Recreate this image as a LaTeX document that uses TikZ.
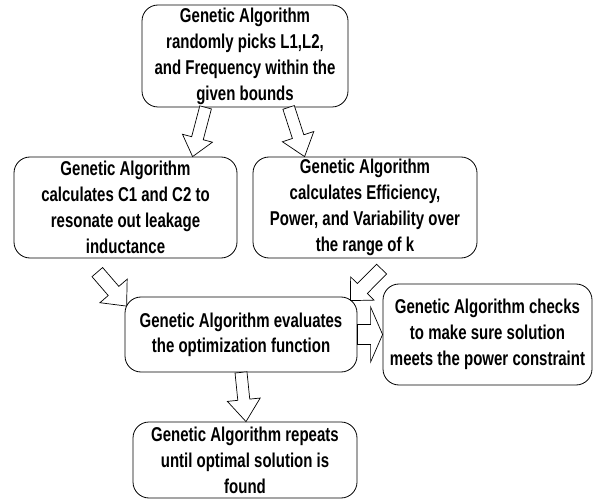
\documentclass[tikz,border=0pt]{standalone}
\usepackage{fontspec}
\setmainfont{Liberation Sans}[FakeStretch=0.75]
\usetikzlibrary{calc}
\tikzset{
  gabox/.style={draw=black, line width=0.8pt, rounded corners=16pt, inner sep=0pt,
    align=center, font=\fontsize{20}{26}\selectfont\bfseries},
  blk/.style={draw=black, fill=white, line width=0.7pt, line join=miter}
}
% #1 start, #2 tip, #3 shaft half width, #4 head half width, #5 head length
\newcommand\blkarrow[5]{%
  \path ($(#2)!#5!(#1)$) coordinate (hb);
  \draw[blk] ($(#1)!#3!90:(#2)$) -- ($(hb)!#3!90:(#2)$) -- ($(hb)!#4!90:(#2)$)
    -- (#2) -- ($(hb)!#4!-90:(#2)$) -- ($(hb)!#3!-90:(#2)$)
    -- ($(#1)!#3!-90:(#2)$) -- cycle;
}
\begin{document}
\begin{tikzpicture}[x=1pt, y=-1pt]
\useasboundingbox (0,0) rectangle (595,500);

\node[gabox, minimum width=206pt, minimum height=102pt] (b1) at (245,56)
  {Genetic Algorithm\\randomly picks L1,L2,\\and Frequency within the\\given bounds};
\node[gabox, minimum width=223pt, minimum height=101pt] (b2) at (125.5,207.5)
  {Genetic Algorithm\\calculates C1 and C2 to\\resonate out leakage\\inductance};
\node[gabox, minimum width=224pt, minimum height=101pt] (b3) at (365,207.5)
  {Genetic Algorithm\\calculates Efficiency,\\Power, and Variability over\\the range of k};
\node[gabox, minimum width=232pt, minimum height=75pt, font=\fontsize{20}{25}\selectfont\bfseries] (b4) at (241,334.5)
  {Genetic Algorithm evaluates\\the optimization function};
\node[gabox, minimum width=209pt, minimum height=101pt] (b5) at (487.5,334.5)
  {Genetic Algorithm checks\\to make sure solution\\meets the power constraint};
\node[gabox, minimum width=224pt, minimum height=76pt] (b6) at (245,460)
  {Genetic Algorithm repeats\\until optimal solution is\\found};

\coordinate (aS) at ($(b1.south west)+(64,0)$);
\coordinate (aE) at ($(b2.north west)+(179,0)$);
\coordinate (bS) at ($(b1.south west)+(147,0)$);
\coordinate (bE) at ($(b3.north west)+(52,0)$);
\coordinate (cS) at ($(b2.south west)+(83.7,13.7)$);
\coordinate (cE) at ($(b4.north west)+(2,9.5)$);
\coordinate (dS) at ($(b3.south west)+(129,10.7)$);
\coordinate (dE) at ($(b4.north east)+(-7,4)$);
\coordinate (eS) at (b4.east);
\coordinate (eE) at (b5.west);
\coordinate (fS) at (b4.south);
\coordinate (fE) at ($(b6.north)+(1,0)$);

\blkarrow{aS}{aE}{6pt}{15.5pt}{19pt}
\blkarrow{bS}{bE}{6pt}{16.5pt}{21pt}
\blkarrow{cS}{cE}{7pt}{18pt}{20pt}
\blkarrow{dS}{dE}{7pt}{16.5pt}{17pt}
\blkarrow{eS}{eE}{10pt}{27.5pt}{12pt}
\blkarrow{fS}{fE}{6pt}{16.5pt}{22pt}
\end{tikzpicture}
\end{document}
